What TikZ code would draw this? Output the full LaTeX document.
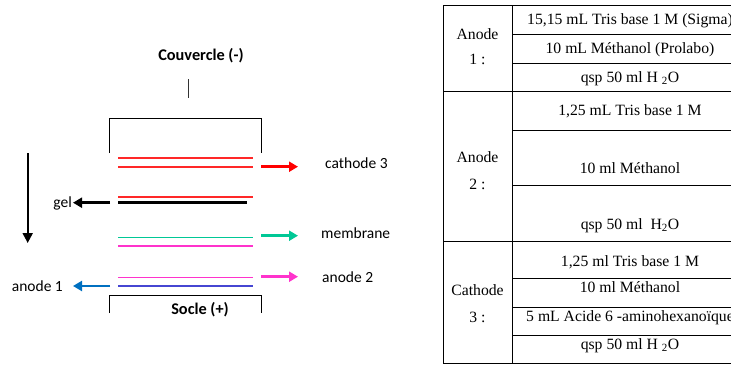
\documentclass[tikz,border=0pt]{standalone}
\usepackage{fontspec}
\setmainfont{Liberation Serif}
\newfontfamily\calib{Carlito}
\usetikzlibrary{arrows.meta}
\definecolor{redl}{RGB}{255,40,40}
\definecolor{tealc}{RGB}{0,200,150}
\definecolor{magc}{RGB}{255,51,204}
\definecolor{bluea}{RGB}{0,112,192}
\definecolor{bluel}{RGB}{70,70,210}
\begin{document}
\begin{tikzpicture}[x=1pt,y=-1pt,
  tab/.style={font=\fontsize{15.7}{18}\selectfont, anchor=base, inner sep=0pt},
  lab/.style={font=\calib\fontsize{15.5}{18}\selectfont, inner sep=0pt},
  blab/.style={font=\calib\bfseries\fontsize{16.3}{19}\selectfont, anchor=base, inner sep=0pt},
  grid/.style={line width=0.8pt, black},
  brk/.style={line width=1.1pt, black},
  layer/.style={line width=1.8pt},
  thinlayer/.style={line width=1.3pt},
  arr/.style={line width=2.6pt, -{Triangle[length=9pt,width=10pt]}},
  varr/.style={line width=2pt, -{Triangle[length=10pt,width=10pt]}}]
\useasboundingbox (0,0) rectangle (731,365);
% ---------------- table ----------------
\foreach \yy in {5,91,241,363} \draw[grid] (443,\yy) -- (760,\yy);
\foreach \yy in {34,63,130,185,278,307,335} \draw[grid] (512,\yy) -- (760,\yy);
\draw[grid] (443,5) -- (443,363);
\draw[grid] (512,5) -- (512,363);
\node[tab] (a1a) at (477.5,39) {Anode};
\node[tab] (a1b) at (477.5,64) {1 :};
\node[tab] (a2a) at (477.5,162) {Anode};
\node[tab] (a2b) at (477.5,189) {2 :};
\node[tab] (c3a) at (477.5,295) {Cathode};
\node[tab] (c3b) at (477.5,322) {3 :};
\node[tab] (r1) at (630,24) {15,15 mL Tris base 1 M (Sigma)};
\node[tab] (r2) at (630,53) {10 mL Méthanol (Prolabo)};
\node[tab] (r3) at (630,82) {qsp 50 ml H \textsubscript{2}O};
\node[tab] (r4) at (630,115) {1,25 mL Tris base 1 M};
\node[tab] (r5) at (630,173) {10 ml Méthanol};
\node[tab] (r6) at (630,229) {qsp 50 ml\ \ H\textsubscript{2}O};
\node[tab] (r7) at (630,266) {1,25 ml Tris base 1 M};
\node[tab] (r8) at (630,292) {10 ml Méthanol};
\node[tab] (r9) at (630,321.5) {5 mL Acide 6 -aminohexanoïque};
\node[tab] (r10) at (630,349) {qsp 50 ml H \textsubscript{2}O};
% ---------------- diagram ----------------
\node[blab] (couv) at (201,60.5) {Couvercle (-)};
\coordinate (tick1) at (188,79);
\coordinate (tick2) at (188,98);
\draw[line width=1pt, black!80] (tick1) -- (tick2);
\draw[brk] (109.5,153) -- (109.5,118.5) -- (261.5,118.5) -- (261.5,153);
\draw[brk] (109.5,313) -- (109.5,295.5) -- (261.5,295.5) -- (261.5,313);
\node[blab] (socle) at (200,314.5) {Socle (+)};
% layers
\draw[layer, redl] (118,157.7) -- (253,157.7);
\draw[layer, redl] (118,166.7) -- (253,166.7);
\draw[layer, redl] (118,197.3) -- (253,197.3);
\draw[line width=3pt, black] (118,202.7) -- (247,202.7);
\draw[thinlayer, tealc] (118,237.3) -- (253,237.3);
\draw[thinlayer, magc] (118,246) -- (253,246);
\draw[thinlayer, magc] (118,277.3) -- (253,277.3);
\draw[layer, bluel] (118,286) -- (253,286);
% labels
\node[lab, anchor=base west] (cath) at (325,168) {cathode 3};
\node[lab, anchor=base west] (memb) at (321,238.5) {membrane};
\node[lab, anchor=base west] (an2) at (322,282.5) {anode 2};
\node[lab, anchor=base west] (an1) at (11.7,291) {anode 1};
\node[lab, anchor=base east] (gel) at (72,207) {gel};
% arrows
\coordinate (cs) at (261,166.7); \coordinate (ce) at (298,166.7);
\draw[arr, red] (cs) -- (ce);
\coordinate (ms) at (261,235.7); \coordinate (me) at (298,235.7);
\draw[arr, tealc] (ms) -- (me);
\coordinate (ps) at (261,276.7); \coordinate (pe) at (298,276.7);
\draw[arr, magc] (ps) -- (pe);
\coordinate (bs) at (110,286); \coordinate (be) at (73,286);
\draw[arr, bluea] (bs) -- (be);
\coordinate (gs) at (110,202.7); \coordinate (ge) at (73,202.7);
\draw[arr, black] (gs) -- (ge);
\coordinate (vs) at (27.7,153); \coordinate (ve) at (27.7,243);
\draw[varr, black] (vs) -- (ve);
\end{tikzpicture}
\end{document}
